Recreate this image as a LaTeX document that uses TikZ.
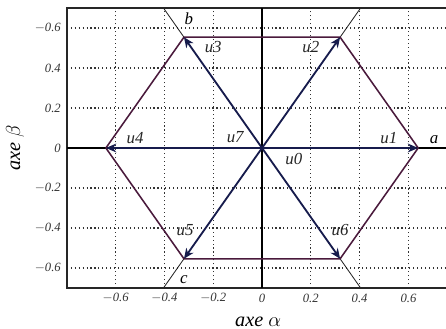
\documentclass[tikz,border=0pt]{standalone}
\usepackage{fontspec}
\setmainfont{Liberation Serif}
\usetikzlibrary{arrows.meta}
\usepackage{xcolor}
\definecolor{HexEdge}{HTML}{4A1A3C}
\definecolor{VecBlue}{HTML}{161B4C}
\tikzset{
  frameline/.style={draw=black!85, line width=1.1pt},
  gridline/.style={draw=black!80, dotted, line width=0.8pt},
  axisline/.style={draw=black, line width=0.9pt},
  sectorline/.style={draw=black!85, line width=0.6pt},
  hexedge/.style={draw=HexEdge, line width=1.1pt, line join=round},
  vec/.style={-{Stealth[length=2.6mm, width=2.2mm]}, line width=1.3pt, draw=VecBlue},
  vlbl/.style={font=\large\itshape, inner sep=1pt, text=black!85},
  sectlbl/.style={font=\large\itshape, inner sep=1pt},
  ticklbl/.style={font=\small\itshape, inner sep=1pt, text=black!80},
  axlbl/.style={font=\Large\itshape, inner sep=1pt},
}

\begin{document}
\begin{tikzpicture}[x=6.1cm, y=5cm]
    \useasboundingbox (-1.074,-0.905) rectangle (0.754,0.74);
    % grid
    \foreach \gx in {-0.6,-0.4,-0.2,0.2,0.4,0.6}
      \draw[gridline] (\gx,-0.7) -- (\gx,0.7);
    \foreach \gy in {-0.6,-0.4,-0.2,0.2,0.4,0.6}
      \draw[gridline] (-0.8,\gy) -- (0.754,\gy);
    % frame
    \draw[frameline] (0.754,0.7) -- (-0.8,0.7) -- (-0.8,-0.7) -- (0.754,-0.7);
    % points
    \coordinate (o) at (0,0);
    \coordinate (v1) at (0.64,0);
    \coordinate (v2) at (0.32,0.554);
    \coordinate (v3) at (-0.32,0.554);
    \coordinate (v4) at (-0.64,0);
    \coordinate (v5) at (-0.32,-0.554);
    \coordinate (v6) at (0.32,-0.554);
    \coordinate (t2) at (0.404,0.7);
    \coordinate (t3) at (-0.404,0.7);
    \coordinate (t5) at (-0.404,-0.7);
    \coordinate (t6) at (0.404,-0.7);
    \coordinate (xl) at (-0.8,0);
    \coordinate (xr) at (0.754,0);
    \coordinate (yt) at (0,0.7);
    \coordinate (yb) at (0,-0.7);
    % axes and sector lines
    \draw[axisline] (xl) -- (xr);
    \draw[axisline] (yb) -- (yt);
    \draw[sectorline] (v2) -- (t2);
    \draw[sectorline] (v3) -- (t3);
    \draw[sectorline] (v5) -- (t5);
    \draw[sectorline] (v6) -- (t6);
    % hexagon
    \draw[hexedge] (v1) -- (v2) -- (v3) -- (v4) -- (v5) -- (v6) -- cycle;
    % vectors
    \draw[vec] (o) -- (v1);
    \draw[vec] (o) -- (v2);
    \draw[vec] (o) -- (v3);
    \draw[vec] (o) -- (v4);
    \draw[vec] (o) -- (v5);
    \draw[vec] (o) -- (v6);
    % labels
    \node[vlbl] (u1) at (0.52,0.05) {u1};
    \node[vlbl] (u2) at (0.20,0.505) {u2};
    \node[vlbl] (u3) at (-0.20,0.505) {u3};
    \node[vlbl] (u4) at (-0.52,0.05) {u4};
    \node[vlbl] (u5) at (-0.315,-0.41) {u5};
    \node[vlbl] (u6) at (0.32,-0.41) {u6};
    \node[vlbl] (u7) at (-0.11,0.055) {u7};
    \node[vlbl] (u0) at (0.13,-0.055) {u0};
    \node[sectlbl] (la) at (0.705,0.04) {a};
    \node[sectlbl] (lb) at (-0.30,0.645) {b};
    \node[sectlbl] (lc) at (-0.32,-0.66) {c};
    % ticks
    \foreach \tx/\tl in {-0.6/$-$0.6,-0.4/$-$0.4,-0.2/$-$0.2,0/0,0.2/0.2,0.4/0.4,0.6/0.6}
      \node[ticklbl] at (\tx,-0.75) {\tl};
    \foreach \ty/\tl in {0.6/$-$0.6,0.4/0.4,0.2/0.2,0/0,-0.2/$-$0.2,-0.4/$-$0.4,-0.6/$-$0.6}
      \node[ticklbl, anchor=east] at (-0.818,\ty) {\tl};
    \node[axlbl] (axa) at (-0.016,-0.87) {axe $\alpha$};
    \node[axlbl, rotate=90] (axb) at (-1.012,0) {axe $\beta$};
  \end{tikzpicture}
\end{document}
